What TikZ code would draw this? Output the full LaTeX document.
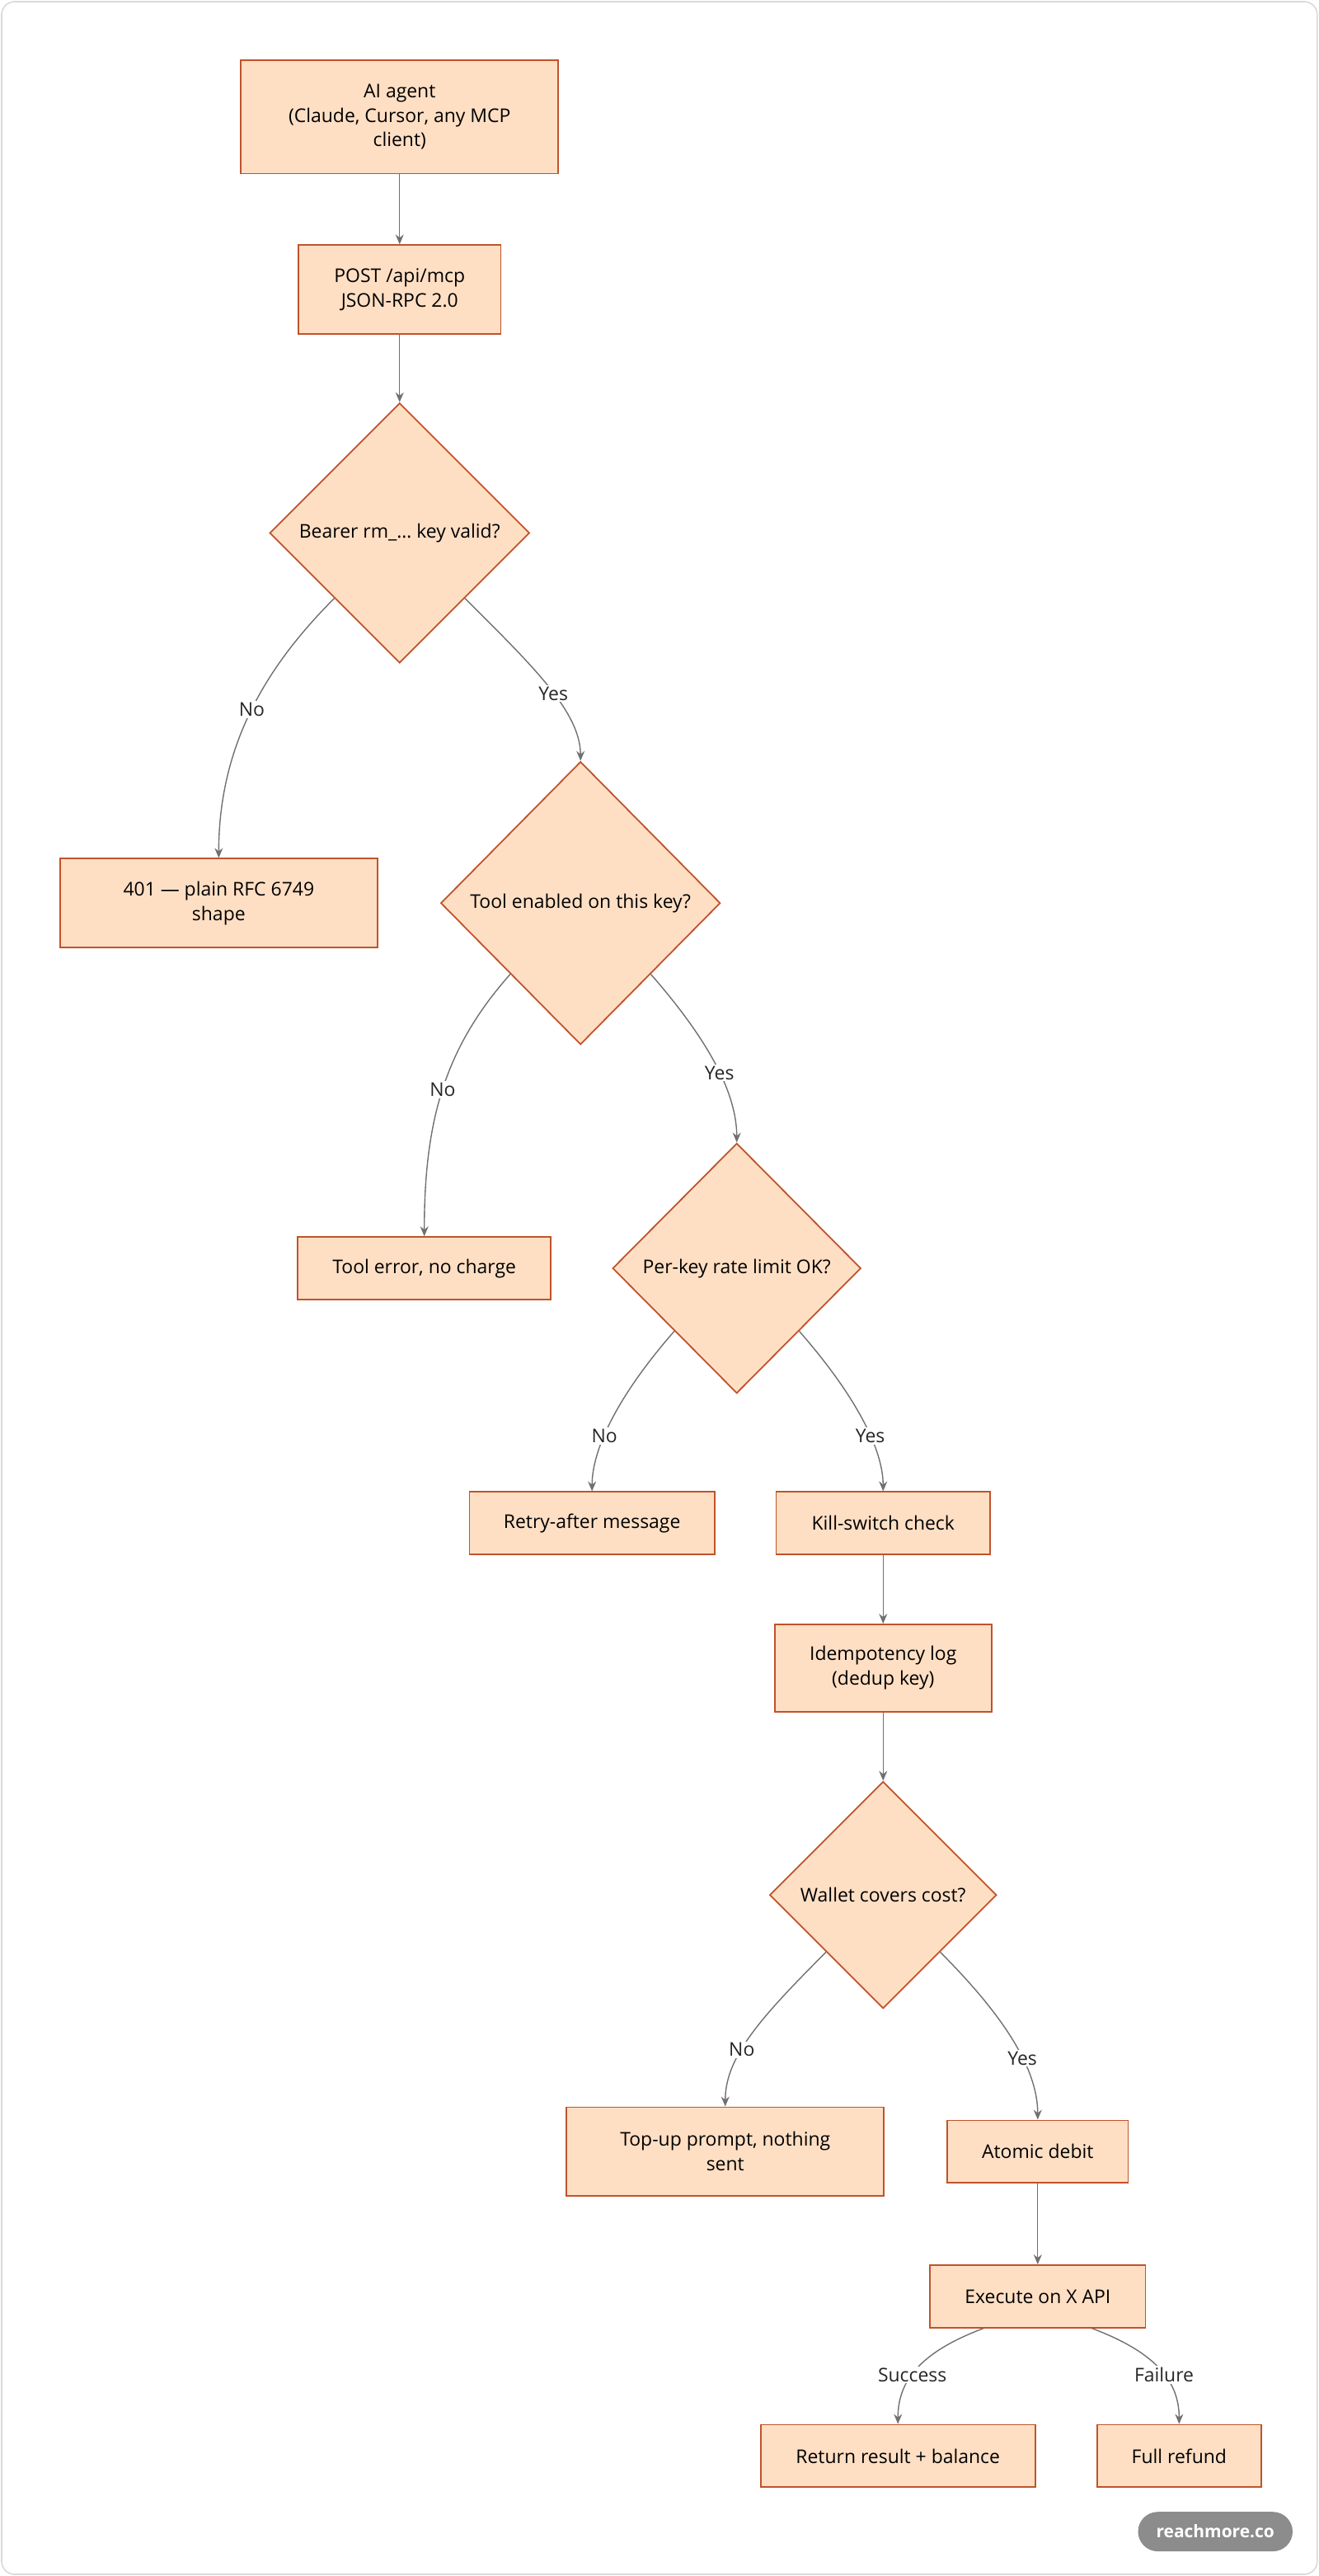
\documentclass[tikz,border=0pt]{standalone}
\usepackage{fontspec}
\setmainfont{Open Sans}
\usetikzlibrary{shapes.geometric,arrows.meta,calc}
\definecolor{boxfill}{HTML}{FFDFC4}
\definecolor{boxline}{HTML}{C0532B}
\definecolor{arrc}{HTML}{707070}
\begin{document}
\begin{tikzpicture}[x=1pt,y=-1pt,
  every node/.style={font=\fontsize{11.5}{15}\selectfont},
  box/.style={draw=boxline,fill=boxfill,line width=0.9pt,align=center,inner sep=0pt},
  dia/.style={diamond,draw=boxline,fill=boxfill,line width=0.9pt,align=center,inner sep=0pt,aspect=1},
  arr/.style={draw=arrc,line width=0.7pt,-{Stealth[length=6pt,width=5pt]}},
  lbl/.style={fill=white,inner sep=1pt,text=black!85}]
\useasboundingbox (0,0) rectangle (802,1566);
\draw[black!15,line width=0.8pt,rounded corners=8pt] (1,1) rectangle (801,1565);
\node[box,minimum width=193pt,minimum height=69pt] (ai) at (243,71) {AI agent\\(Claude, Cursor, any MCP\\client)};
\node[box,minimum width=123pt,minimum height=54pt] (post) at (243,176) {POST /api/mcp\\JSON-RPC 2.0};
\node[dia,minimum width=158pt,minimum height=158pt] (d1) at (243,324) {Bearer rm\_… key valid?};
\node[box,minimum width=193pt,minimum height=54pt] (e401) at (133,549) {401 — plain RFC 6749\\shape};
\node[dia,minimum width=170pt,minimum height=172pt] (d2) at (353,549) {Tool enabled on this key?};
\node[box,minimum width=154pt,minimum height=38pt] (terr) at (258,771) {Tool error, no charge};
\node[dia,minimum width=151pt,minimum height=152pt] (d3) at (448,771) {Per-key rate limit OK?};
\node[box,minimum width=149pt,minimum height=38pt] (retry) at (360,926) {Retry-after message};
\node[box,minimum width=130pt,minimum height=38pt] (kill) at (537,926) {Kill-switch check};
\node[box,minimum width=132pt,minimum height=53pt] (idem) at (537,1014) {Idempotency log\\(dedup key)};
\node[dia,minimum width=138pt,minimum height=138pt] (d4) at (537,1152) {Wallet covers cost?};
\node[box,minimum width=193pt,minimum height=54pt] (top) at (441,1308) {Top-up prompt, nothing\\sent};
\node[box,minimum width=110pt,minimum height=38pt] (deb) at (631,1308) {Atomic debit};
\node[box,minimum width=131pt,minimum height=38pt] (ex) at (631,1396) {Execute on X API};
\node[box,minimum width=167pt,minimum height=38pt] (ret) at (546,1493) {Return result + balance};
\node[box,minimum width=100pt,minimum height=38pt] (ref) at (717,1493) {Full refund};
\node[fill=black!45,text=white,rounded corners=12pt,minimum width=94pt,minimum height=24pt,inner sep=0pt,font=\fontsize{10.5}{12}\selectfont\bfseries] (pill) at (739,1539) {reachmore.co};

\draw[arr] (ai) -- (post);
\draw[arr] (post) -- (d1);
\draw[arr] (d1.south west) .. controls +(-40,40) and +(0,-70) .. node[lbl,pos=0.5]{No} (e401.north);
\draw[arr] (d1.south east) .. controls +(40,40) and +(0,-30) .. node[lbl,pos=0.55]{Yes} (d2.north);
\draw[arr] (d2.south west) .. controls +(-40,45) and +(0,-70) .. node[lbl,pos=0.5]{No} (terr.north);
\draw[arr] (d2.south east) .. controls +(35,40) and +(0,-30) .. node[lbl,pos=0.55]{Yes} (d3.north);
\draw[arr] (d3.south west) .. controls +(-35,40) and +(0,-25) .. node[lbl,pos=0.6]{No} (retry.north);
\draw[arr] (d3.south east) .. controls +(35,40) and +(0,-25) .. node[lbl,pos=0.6]{Yes} (kill.north);
\draw[arr] (kill) -- (idem);
\draw[arr] (idem) -- (d4);
\draw[arr] (d4.south west) .. controls +(-40,40) and +(0,-30) .. node[lbl,pos=0.6]{No} (top.north);
\draw[arr] (d4.south east) .. controls +(40,40) and +(0,-30) .. node[lbl,pos=0.6]{Yes} (deb.north);
\draw[arr] (deb) -- (ex);
\draw[arr] ($(ex.south)+(-33,0)$) .. controls +(-40,15) and +(0,-25) .. node[lbl,pos=0.55]{Success} (ret.north);
\draw[arr] ($(ex.south)+(33,0)$) .. controls +(40,15) and +(0,-25) .. node[lbl,pos=0.55]{Failure} (ref.north);
\end{tikzpicture}
\end{document}
